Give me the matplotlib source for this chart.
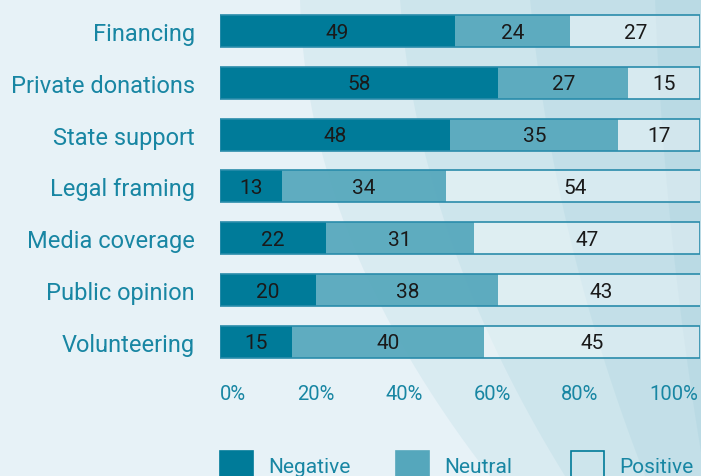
import numpy as np
import matplotlib
matplotlib.use("Agg")
import matplotlib.pyplot as plt
from matplotlib.patches import Polygon, Rectangle

# data
categories = ["Financing", "Private donations", "State support", "Legal framing",
              "Media coverage", "Public opinion", "Volunteering"]
negative = [49, 58, 48, 13, 22, 20, 15]
neutral = [24, 27, 35, 34, 31, 38, 40]
positive = [27, 15, 17, 54, 47, 43, 45]
tick_labels = ["0%", "20%", "40%", "60%", "80%", "100%"]
series_names = ["Negative", "Neutral", "Positive"]

W, H = 701, 477
teal_text = "#1886a3"
c_neg = "#007b99"
c_neu = "#55a7bc"
edge = "#2a8cab"

plt.rcParams['font.family'] = ['Roboto', 'DejaVu Sans']

fig = plt.figure(figsize=(W / 100, H / 100), dpi=100)
fig.patch.set_facecolor("#e7f2f7")


def px(x, y):
    # pixel (from top-left) -> figure fraction
    return x / W, 1 - y / H


# curved background bands, darker to the right
bands = [(300, 350, 490), (400, 450, 565), (530, 570, 645), (655, 672, 705)]
for top, mid, bot in bands:
    ys = np.linspace(0, H, 40)
    t = ys / H
    xs = (1 - t) ** 2 * top + 2 * (1 - t) * t * (2 * mid - (top + bot) / 2) + t ** 2 * bot
    pts = [px(x, y) for x, y in zip(xs, ys)] + [px(W + 5, H), px(W + 5, 0)]
    fig.add_artist(Polygon(pts, closed=True, transform=fig.transFigure,
                           facecolor="#8cc3d3", alpha=0.15, lw=0, zorder=0))

# axes placed so rows sit where they are in the reference
row_top, row_bot = 6.1, 368.7
ax = fig.add_axes([220 / W, 1 - row_bot / H, 480 / W, (row_bot - row_top) / H])
ax.set_facecolor("none")

y = np.arange(len(categories))
neg = np.array(negative)
neu = np.array(neutral)
pos = np.array(positive)
h = 0.62

ax.barh(y, neg, height=h, color=c_neg, lw=0, zorder=2)
ax.barh(y, neu, left=neg, height=h, color=c_neu, alpha=0.93, lw=0, zorder=2)
ax.barh(y, pos, left=neg + neu, height=h, color="white", alpha=0.35, lw=0, zorder=2)
# outline round each row
ax.barh(y, neg + neu + pos, height=h, facecolor="none", edgecolor=edge, lw=1.2, zorder=3)

for vals, lefts in [(neg, np.zeros_like(neg)), (neu, neg), (pos, neg + neu)]:
    for yi, v, l in zip(y, vals, lefts):
        ax.text(l + v / 2, yi + 0.02, str(v), ha="center", va="center",
                fontsize=15, color="#1a1a1a", zorder=4)

ax.set_xlim(0, 100)
ax.set_ylim(6.5, -0.5)
ax.set_yticks(y)
ax.set_yticklabels(categories, fontsize=17, color=teal_text)
ax.tick_params(axis="y", length=0, pad=18)
ax.set_xticks([])
for s in ax.spines.values():
    s.set_visible(False)

# percentage labels spread across the bar width
for i, lab in enumerate(tick_labels):
    if i == 0:
        ha, xpos = "left", 220
    elif i == len(tick_labels) - 1:
        ha, xpos = "right", 698
    else:
        ha, xpos = "center", 228 + i * 88
    fig.text(*px(xpos, 395), lab, ha=ha, va="center", fontsize=14.5, color=teal_text)

# legend
leg_x = [220, 396, 571]
for i, name in enumerate(series_names):
    fc = [c_neg, c_neu, "none"][i]
    x0, y0 = px(leg_x[i], 452 + 33)
    fig.add_artist(Rectangle((x0, y0), 33 / W, 33 / H, transform=fig.transFigure,
                             facecolor=fc, edgecolor=c_neg if i == 2 else fc,
                             lw=1.2, zorder=3))
    fig.text(*px(leg_x[i] + 48, 468), name, ha="left", va="center",
             fontsize=15, color=teal_text)

fig.savefig("out.png", dpi=100, facecolor=fig.get_facecolor())
